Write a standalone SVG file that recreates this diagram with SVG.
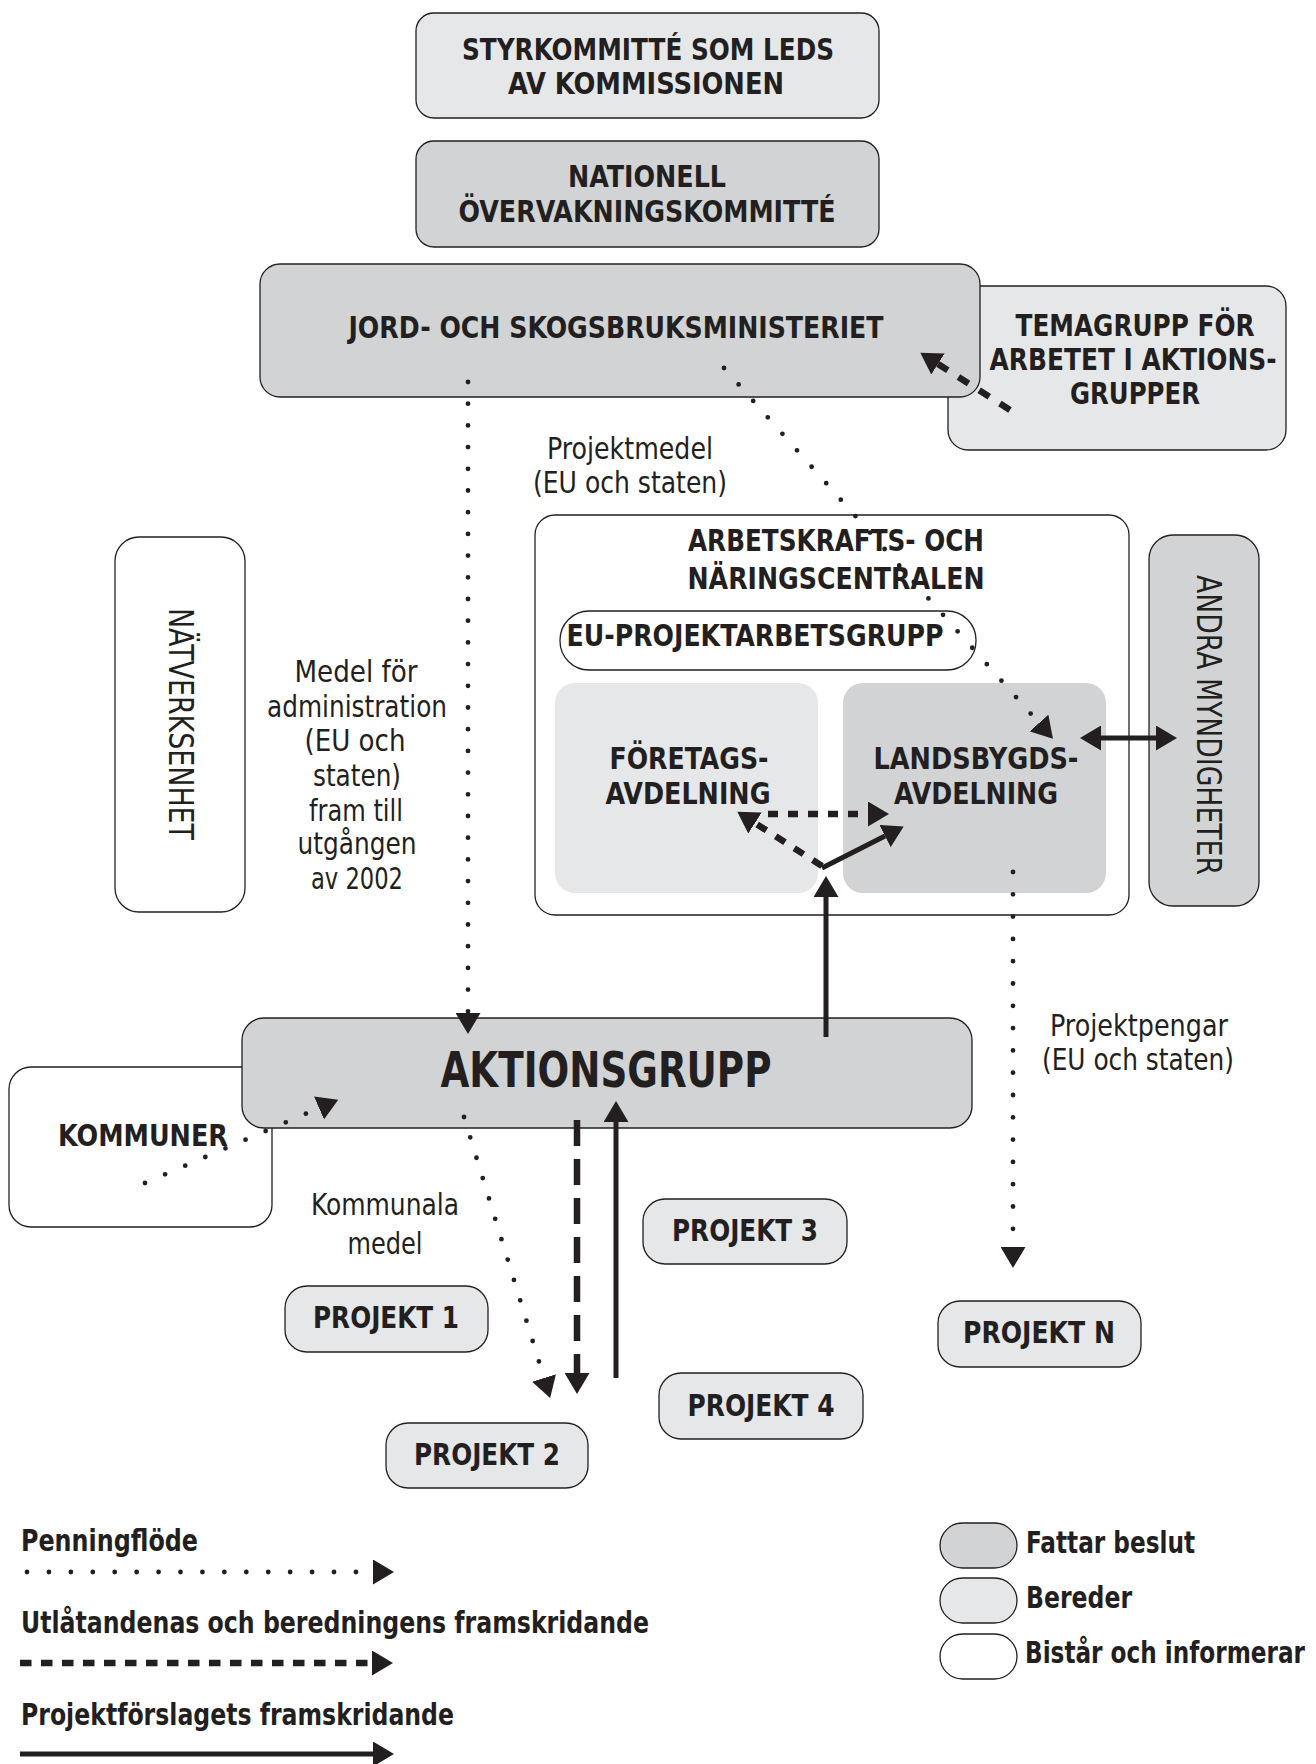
<svg xmlns="http://www.w3.org/2000/svg" width="1316" height="1764" viewBox="0 0 1316 1764">
<style>
.bg{fill:#ffffff}
.box{stroke:#231f20;stroke-width:1.3}
.dark{fill:#d1d3d4}
.light{fill:#e6e7e8}
.white{fill:#ffffff}
.nostroke{stroke:none}
text{fill:#231f20;font-family:"Liberation Sans Narrow","DejaVu Sans Condensed","Liberation Sans",Arial,sans-serif}
.b{font-weight:bold;font-size:30px;text-anchor:middle}
.r{font-weight:normal;font-size:30px;text-anchor:middle}
.big{font-weight:bold;font-size:50px;text-anchor:middle}
.lb{font-weight:bold;font-size:30px;text-anchor:start}
.rot{font-weight:normal;font-size:33px;text-anchor:middle}
.dot{fill:none;stroke:#231f20;stroke-width:4.8;stroke-linecap:round}
.dash{fill:none;stroke:#231f20;stroke-width:6.5}
.solid{fill:none;stroke:#231f20;stroke-width:5}
</style>
<defs>
<marker id="ah" markerUnits="userSpaceOnUse" markerWidth="21" markerHeight="25" viewBox="0 0 21 25" refX="0" refY="12.5" orient="auto-start-reverse">
<path d="M0,0 L21,12.5 L0,25 Z" fill="#231f20"/>
</marker>
</defs>
<rect class="bg" x="0" y="0" width="1316" height="1764"/>

<g id="styrkommitte">
<rect class="box light" x="416" y="13" width="463" height="105" rx="18"/>
<text class="b" x="648" y="60" textLength="372" lengthAdjust="spacingAndGlyphs">STYRKOMMITTÉ SOM LEDS</text>
<text class="b" x="646" y="94" textLength="276" lengthAdjust="spacingAndGlyphs">AV KOMMISSIONEN</text>
</g>

<g id="nationell">
<rect class="box dark" x="416" y="141" width="463" height="106" rx="18"/>
<text class="b" x="647" y="187" textLength="158" lengthAdjust="spacingAndGlyphs">NATIONELL</text>
<text class="b" x="647" y="222" textLength="377" lengthAdjust="spacingAndGlyphs">ÖVERVAKNINGSKOMMITTÉ</text>
</g>

<g id="temagrupp">
<rect class="box light" x="948" y="286" width="338" height="164" rx="20"/>
<text class="b" x="1135" y="336" textLength="239" lengthAdjust="spacingAndGlyphs">TEMAGRUPP FÖR</text>
<text class="b" x="1133" y="370" textLength="287" lengthAdjust="spacingAndGlyphs">ARBETET I AKTIONS-</text>
<text class="b" x="1135" y="404" textLength="130" lengthAdjust="spacingAndGlyphs">GRUPPER</text>
</g>

<g id="jord">
<rect class="box dark" x="260" y="264" width="720" height="133" rx="20"/>
<text class="b" x="616" y="338" textLength="535" lengthAdjust="spacingAndGlyphs">JORD- OCH SKOGSBRUKSMINISTERIET</text>
</g>

<g id="natverksenhet">
<rect class="box white" x="115" y="537" width="130" height="375" rx="24"/>
<text class="rot" transform="translate(169,724) rotate(90)" x="0" y="0" textLength="232" lengthAdjust="spacingAndGlyphs">NÄTVERKSENHET</text>
</g>

<g id="ntc">
<rect class="box white" x="535" y="515" width="594" height="400" rx="20"/>
<text class="b" x="836" y="551" textLength="296" lengthAdjust="spacingAndGlyphs">ARBETSKRAFTS- OCH</text>
<text class="b" x="836" y="589" textLength="297" lengthAdjust="spacingAndGlyphs">NÄRINGSCENTRALEN</text>
</g>

<g id="euprojekt">
<rect class="box white" x="560" y="611" width="416" height="59" rx="29"/>
<text class="b" x="755" y="646" textLength="377" lengthAdjust="spacingAndGlyphs">EU-PROJEKTARBETSGRUPP</text>
</g>

<g id="foretagsavdelning">
<rect class="light nostroke" x="555" y="683" width="263" height="210" rx="20"/>
<text class="b" x="689" y="769" textLength="159" lengthAdjust="spacingAndGlyphs">FÖRETAGS-</text>
<text class="b" x="688" y="804" textLength="165" lengthAdjust="spacingAndGlyphs">AVDELNING</text>
</g>

<g id="landsbygdsavdelning">
<rect class="dark nostroke" x="843" y="683" width="263" height="210" rx="20"/>
<text class="b" x="976" y="769" textLength="205" lengthAdjust="spacingAndGlyphs">LANDSBYGDS-</text>
<text class="b" x="976" y="804" textLength="164" lengthAdjust="spacingAndGlyphs">AVDELNING</text>
</g>

<g id="andra">
<rect class="box dark" x="1149" y="535" width="110" height="371" rx="24"/>
<text class="rot" transform="translate(1197,725) rotate(90)" x="0" y="0" textLength="300" lengthAdjust="spacingAndGlyphs">ANDRA MYNDIGHETER</text>
</g>

<g id="kommuner">
<rect class="box white" x="9" y="1067" width="263" height="160" rx="22"/>
<text class="b" x="143" y="1146" textLength="170" lengthAdjust="spacingAndGlyphs">KOMMUNER</text>
</g>

<g id="aktionsgrupp">
<rect class="box dark" x="242" y="1018" width="730" height="110" rx="22"/>
<text class="big" x="606" y="1087" textLength="331" lengthAdjust="spacingAndGlyphs">AKTIONSGRUPP</text>
</g>

<g id="projekt1">
<rect class="box light" x="285" y="1286" width="203" height="66" rx="22"/>
<text class="b" x="386" y="1328" textLength="146" lengthAdjust="spacingAndGlyphs">PROJEKT 1</text>
</g>
<g id="projekt2">
<rect class="box light" x="386" y="1423" width="202" height="65" rx="22"/>
<text class="b" x="487" y="1465" textLength="146" lengthAdjust="spacingAndGlyphs">PROJEKT 2</text>
</g>
<g id="projekt3">
<rect class="box light" x="643" y="1199" width="204" height="65" rx="22"/>
<text class="b" x="745" y="1241" textLength="146" lengthAdjust="spacingAndGlyphs">PROJEKT 3</text>
</g>
<g id="projekt4">
<rect class="box light" x="659" y="1373" width="204" height="66" rx="22"/>
<text class="b" x="761" y="1416" textLength="147" lengthAdjust="spacingAndGlyphs">PROJEKT 4</text>
</g>
<g id="projektN">
<rect class="box light" x="938" y="1301" width="203" height="66" rx="22"/>
<text class="b" x="1039" y="1343" textLength="152" lengthAdjust="spacingAndGlyphs">PROJEKT N</text>
</g>

<g id="labels">
<text class="r" x="630" y="459" textLength="166" lengthAdjust="spacingAndGlyphs">Projektmedel</text>
<text class="r" x="630" y="493" textLength="194" lengthAdjust="spacingAndGlyphs">(EU och staten)</text>
<text class="r" x="356" y="682" textLength="123" lengthAdjust="spacingAndGlyphs">Medel för</text>
<text class="r" x="357" y="717" textLength="180" lengthAdjust="spacingAndGlyphs">administration</text>
<text class="r" x="355" y="751" textLength="101" lengthAdjust="spacingAndGlyphs">(EU och</text>
<text class="r" x="357" y="786" textLength="88" lengthAdjust="spacingAndGlyphs">staten)</text>
<text class="r" x="356" y="821" textLength="94" lengthAdjust="spacingAndGlyphs">fram till</text>
<text class="r" x="357" y="854" textLength="119" lengthAdjust="spacingAndGlyphs">utgången</text>
<text class="r" x="357" y="889" textLength="92" lengthAdjust="spacingAndGlyphs">av 2002</text>
<text class="r" x="385" y="1215" textLength="148" lengthAdjust="spacingAndGlyphs">Kommunala</text>
<text class="r" x="385" y="1254" textLength="75" lengthAdjust="spacingAndGlyphs">medel</text>
<text class="r" x="1139" y="1036" textLength="178" lengthAdjust="spacingAndGlyphs">Projektpengar</text>
<text class="r" x="1138" y="1070" textLength="192" lengthAdjust="spacingAndGlyphs">(EU och staten)</text>
</g>

<g id="connectors">
<path class="dot" d="M468,382 L468,1013" stroke-dasharray="0 21.7" marker-end="url(#ah)"/>
<path class="dot" d="M724,368 L1039,723" stroke-dasharray="0 22" marker-end="url(#ah)"/>
<path class="dot" d="M1013,872 L1013,1247" stroke-dasharray="0 22.3" marker-end="url(#ah)"/>
<path class="dot" d="M145,1183 L319,1108" stroke-dasharray="0 21.9" marker-end="url(#ah)"/>
<path class="dot" d="M464,1117 L544,1378" stroke-dasharray="0 21.3" marker-end="url(#ah)"/>
<path class="dash" d="M1010,410 L938,364" stroke-dasharray="12 12.6" marker-end="url(#ah)"/>
<path class="dash" d="M768,814 L868,814" stroke-dasharray="10 10" marker-end="url(#ah)"/>
<path class="dash" d="M822,866 L755,823" stroke-dasharray="11 11" marker-end="url(#ah)"/>
<path class="dash" d="M577,1120 L577,1373" stroke-dasharray="26 13" marker-end="url(#ah)"/>
<path class="solid" d="M822,868 L885,836" marker-end="url(#ah)"/>
<path class="solid" d="M826,1037 L826,897" marker-end="url(#ah)"/>
<path class="solid" d="M1101,738 L1156,738" marker-start="url(#ah)" marker-end="url(#ah)"/>
<path class="solid" d="M616,1378 L616,1122" marker-end="url(#ah)"/>
</g>

<g id="legend">
<text class="lb" x="21" y="1551" textLength="177" lengthAdjust="spacingAndGlyphs">Penningflöde</text>
<path class="dot" d="M27,1572 L373,1572" stroke-dasharray="0 21.93" marker-end="url(#ah)"/>
<text class="lb" x="21" y="1633" textLength="628" lengthAdjust="spacingAndGlyphs">Utlåtandenas och beredningens framskridande</text>
<path class="dash" d="M20,1663 L372,1663" stroke-dasharray="11.5 9.5" marker-end="url(#ah)"/>
<text class="lb" x="21" y="1725" textLength="433" lengthAdjust="spacingAndGlyphs">Projektförslagets framskridande</text>
<path class="solid" d="M20,1754 L373,1754" stroke-width="6" marker-end="url(#ah)"/>
<rect class="box dark" x="940" y="1523" width="77" height="45" rx="22.5"/>
<text class="lb" x="1026" y="1553" textLength="169" lengthAdjust="spacingAndGlyphs">Fattar beslut</text>
<rect class="box light" x="940" y="1578" width="77" height="45" rx="22.5"/>
<text class="lb" x="1026" y="1608" textLength="106" lengthAdjust="spacingAndGlyphs">Bereder</text>
<rect class="box white" x="940" y="1634" width="77" height="45" rx="22.5"/>
<text class="lb" x="1025" y="1663" textLength="280" lengthAdjust="spacingAndGlyphs">Bistår och informerar</text>
</g>
</svg>
